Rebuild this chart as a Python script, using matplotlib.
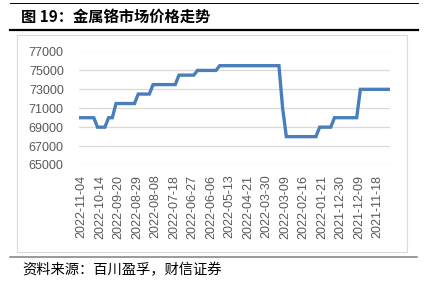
import numpy as np
import matplotlib
matplotlib.use('Agg')
import matplotlib.pyplot as plt
import matplotlib.transforms as mtransforms
from matplotlib.patches import Rectangle
from matplotlib.lines import Line2D

plt.rcParams['font.family'] = ['Liberation Sans', 'Noto Sans CJK SC', 'DejaVu Sans']

# x-axis labels (newest first, as in the source chart), one every 5 points
date_labels = ['2022-11-04', '2022-10-14', '2022-09-20', '2022-08-29', '2022-08-08',
               '2022-07-18', '2022-06-27', '2022-06-06', '2022-05-13', '2022-04-21',
               '2022-03-30', '2022-03-09', '2022-02-16', '2022-01-21', '2021-12-30',
               '2021-12-09', '2021-11-18']

# price, yuan/ton
price = [70000, 70000, 70000, 70000, 70000,
         69000, 69000, 69000,
         70000, 70000,
         71500, 71500, 71500, 71500, 71500, 71500,
         72500, 72500, 72500, 72500,
         73500, 73500, 73500, 73500, 73500, 73500, 73500,
         74500, 74500, 74500, 74500, 74500,
         75000, 75000, 75000, 75000, 75000, 75000,
         75500, 75500, 75500, 75500, 75500, 75500, 75500, 75500, 75500,
         75500, 75500, 75500, 75500, 75500, 75500, 75500, 75500,
         71000,
         68000, 68000, 68000, 68000, 68000, 68000, 68000, 68000, 68000,
         69000, 69000, 69000, 69000,
         70000, 70000, 70000, 70000, 70000, 70000, 70000,
         73000, 73000, 73000, 73000, 73000, 73000, 73000, 73000, 73000]

label_step = 5
y_ticks = [65000, 67000, 69000, 71000, 73000, 75000, 77000]

W, H = 429, 293
fig = plt.figure(figsize=(W / 100, H / 100), dpi=100)

# title + rules + chart frame (figure pixel coords)
fig.add_artist(Line2D([10 / W, 418 / W], [1 - 3 / H, 1 - 3 / H], color='black', lw=0.7))
fig.text(21 / W, 1 - 17 / H, '图 19：金属铬市场价格走势', fontsize=11, fontweight='bold',
         family=['Noto Sans CJK SC', 'DejaVu Sans'], va='center', ha='left')
fig.add_artist(Line2D([10 / W, 418 / W], [1 - 30 / H, 1 - 30 / H], color='black', lw=1.6))
fig.add_artist(Rectangle((17 / W, 1 - 252 / H), 390 / W, 217 / H, fill=False,
                         edgecolor='#d9d9d9', lw=0.8))
fig.add_artist(Line2D([10 / W, 417 / W], [1 - 257 / H, 1 - 257 / H], color='#7f7f7f', lw=1.1))
fig.text(22 / W, 1 - 270 / H, '资料来源：百川盈孚，财信证券', fontsize=10.3, style='italic',
         family=['Noto Sans CJK SC', 'DejaVu Sans'], va='center', ha='left')

ax = fig.add_axes([79 / W, 1 - 165 / H, (390 - 79) / W, (165 - 51.5) / H])
x = np.arange(len(price))
ax.plot(x, price, color='#4a7ebb', lw=2.4, solid_joinstyle='miter')

ax.set_xlim(0, len(price) - 1)
ax.set_ylim(65000, 77000)
ax.set_yticks(y_ticks)
ax.set_yticklabels([str(v) for v in y_ticks])
ax.set_xticks(x[::label_step])
ax.set_xticklabels(date_labels, rotation=90, va='top', ha='center')
ax.grid(axis='y', color='#d9d9d9', lw=0.9)
ax.set_axisbelow(True)
for s in ax.spines.values():
    s.set_visible(False)
ax.tick_params(axis='both', length=0, colors='#595959', labelsize=9)
ax.tick_params(axis='y', pad=11)
ax.tick_params(axis='x', pad=7)
off = mtransforms.ScaledTranslation(2.5 / 100, 0, fig.dpi_scale_trans)
for lab in ax.get_xticklabels():
    lab.set_transform(lab.get_transform() + off)

fig.savefig('out.png', dpi=100)
